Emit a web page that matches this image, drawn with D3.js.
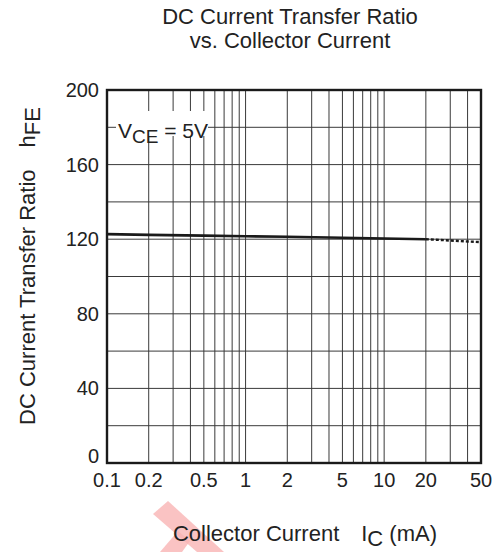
<!DOCTYPE html>
<html>
<head>
<meta charset="utf-8">
<script src="https://cdn.jsdelivr.net/npm/d3@7"></script>
<style>
  body { margin: 0; background: #fff; }
  svg { display: block; font-family: "Liberation Sans", Arial, sans-serif; }
</style>
</head>
<body>
<div id="chart"></div>
<script>
const W = 502, H = 552;
const M = { top: 90, right: 21, bottom: 89, left: 107 };

// Data
const icSolid = [0.1, 0.2, 0.5, 1, 2, 5, 10, 20];
const hfeSolid = [122.7, 122.3, 121.9, 121.6, 121.3, 120.8, 120.4, 120.0];
const icDotted = [20, 30, 40, 50];
const hfeDotted = [120.0, 119.3, 118.8, 118.4];

const xTicks = [0.1, 0.2, 0.5, 1, 2, 5, 10, 20, 50];
const xGrid = [0.2, 0.3, 0.4, 0.5, 0.6, 0.7, 0.8, 0.9, 1, 2, 3, 4, 5, 6, 7, 8, 9, 10, 20, 30, 40];
const yTicks = [0, 40, 80, 120, 160, 200];
const yGrid = [20, 40, 60, 80, 100, 120, 140, 160, 180];

const iw = W - M.left - M.right, ih = H - M.top - M.bottom;
const svg = d3.select('#chart').append('svg').attr('width', W).attr('height', H);

// faint watermark near the x title
svg.append('polygon')
  .attr('points', '168,501 153,514 197,552 224,552')
  .attr('fill', '#f9b4b4').attr('opacity', 0.8);
svg.append('polygon')
  .attr('points', '160,552 182,552 190,541 178,531')
  .attr('fill', '#f9b4b4').attr('opacity', 0.8);

const g = svg.append('g').attr('transform', `translate(${M.left},${M.top})`);
const x = d3.scaleLog().domain([0.1, 50]).range([0, iw]);
const y = d3.scaleLinear().domain([0, 200]).range([ih, 0]);

g.selectAll('.vg').data(xGrid).join('line')
  .attr('x1', d => x(d)).attr('x2', d => x(d)).attr('y1', 0).attr('y2', ih)
  .attr('stroke', '#3a3a3a').attr('stroke-width', 1);
g.selectAll('.hg').data(yGrid).join('line')
  .attr('x1', 0).attr('x2', iw).attr('y1', d => y(d)).attr('y2', d => y(d))
  .attr('stroke', '#3a3a3a').attr('stroke-width', 1);

// label box for V_CE
g.append('rect').attr('x', 9).attr('y', 21).attr('width', 92).attr('height', 25).attr('fill', '#fff');
const vce = g.append('text').attr('x', 11).attr('y', y(180) + 11).attr('font-size', 21).attr('fill', '#222');
vce.append('tspan').text('V');
vce.append('tspan').attr('dy', 5).attr('font-size', 19).text('CE');
vce.append('tspan').attr('dy', -5).text(' = 5V');

// curve
const line = d3.line().x(d => x(d[0])).y(d => y(d[1]));
g.append('path').datum(icSolid.map((v, i) => [v, hfeSolid[i]]))
  .attr('d', line).attr('fill', 'none').attr('stroke', '#1a1a1a').attr('stroke-width', 2.6);
g.append('path').datum(icDotted.map((v, i) => [v, hfeDotted[i]]))
  .attr('d', line).attr('fill', 'none').attr('stroke', '#1a1a1a').attr('stroke-width', 2.4)
  .attr('stroke-dasharray', '3,2');

// frame
g.append('rect').attr('x', 0).attr('y', 0).attr('width', iw).attr('height', ih)
  .attr('fill', 'none').attr('stroke', '#1a1a1a').attr('stroke-width', 2.4);

// tick labels
g.selectAll('.xt').data(xTicks).join('text')
  .attr('x', d => x(d)).attr('y', ih + 24).attr('text-anchor', 'middle')
  .attr('font-size', 20).attr('fill', '#222').text(d => d);
g.selectAll('.yt').data(yTicks).join('text')
  .attr('x', -8).attr('y', d => d === 0 ? ih : y(d) + 7).attr('text-anchor', 'end')
  .attr('font-size', 20).attr('fill', '#222').text(d => d);

// titles
svg.append('text').attr('x', 290).attr('y', 24).attr('text-anchor', 'middle')
  .attr('font-size', 22).attr('fill', '#222').text('DC Current Transfer Ratio');
svg.append('text').attr('x', 290).attr('y', 48).attr('text-anchor', 'middle')
  .attr('font-size', 22).attr('fill', '#222').text('vs. Collector Current');

const xl = svg.append('text').attr('x', 305).attr('y', 541).attr('text-anchor', 'middle')
  .attr('font-size', 22).attr('fill', '#222');
xl.append('tspan').text('Collector Current\u2003I');
xl.append('tspan').attr('dy', 5).text('C');
xl.append('tspan').attr('dy', -5).text(' (mA)');

const yl = svg.append('text').attr('transform', 'translate(35,266) rotate(-90)')
  .attr('text-anchor', 'middle').attr('font-size', 22).attr('fill', '#222');
yl.append('tspan').text('DC Current Transfer Ratio\u2003h');
yl.append('tspan').attr('dy', 5).text('FE');
</script>
</body>
</html>
